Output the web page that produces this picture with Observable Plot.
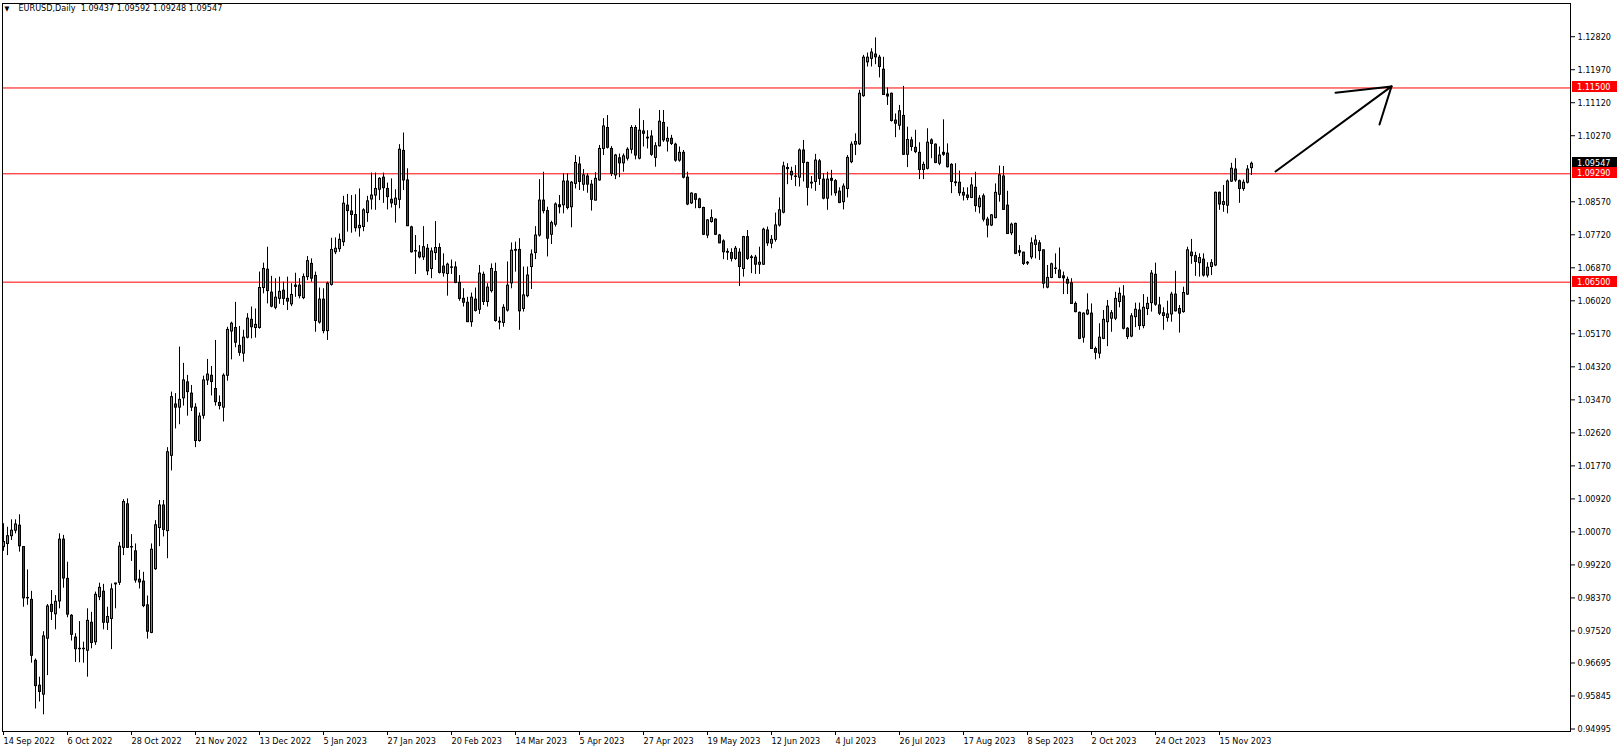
<!DOCTYPE html>
<html><head><meta charset="utf-8">
<script src="https://cdn.jsdelivr.net/npm/d3@7"></script>
<script src="https://cdn.jsdelivr.net/npm/@observablehq/plot@0.6"></script>
<style>html,body{margin:0;padding:0;background:#fff;}#chart{width:1618px;height:752px;overflow:hidden;}</style>
</head><body><div id="chart"></div>
<script>
const opens = [
0.9968,0.9976,0.9996,1.0010,1.0023,0.9968,0.9836,0.9832,0.9675,0.9611,
0.9588,0.9732,0.9819,0.9795,0.9828,0.9987,0.9886,0.9791,0.9735,0.9705,
0.9706,0.9701,0.9773,0.9723,0.9839,0.9853,0.9773,0.9783,0.9872,0.9876,
0.9966,1.0078,0.9968,0.9957,0.9884,0.9879,0.9818,0.9747,0.9911,1.0017,
1.0075,1.0009,1.0203,1.0335,1.0327,1.0351,1.0392,1.0363,1.0327,1.0241,
1.0306,1.0397,1.0409,1.0375,1.0339,1.0327,1.0409,1.0523,1.0532,1.0486,
1.0466,1.0507,1.0553,1.0532,1.0532,1.0635,1.0682,1.0623,1.0584,1.0607,
1.0628,1.0607,1.0593,1.0641,1.0641,1.0609,1.0663,1.0697,1.0666,1.0546,
1.0605,1.0524,1.0643,1.0727,1.0735,1.0753,1.0847,1.0832,1.0823,1.0789,
1.0792,1.0828,1.0863,1.0873,1.0888,1.0919,1.0890,1.0862,1.0849,1.0862,
1.0988,1.0912,1.0791,1.0730,1.0726,1.0714,1.0736,1.0684,1.0725,1.0738,
1.0690,1.0671,1.0688,1.0688,1.0648,1.0607,1.0597,1.0547,1.0605,1.0579,
1.0669,1.0599,1.0627,1.0676,1.0548,1.0545,1.0577,1.0647,1.0733,1.0733,
1.0581,1.0614,1.0689,1.0725,1.0770,1.0860,1.0833,1.0772,1.0798,1.0843,
1.0848,1.0909,1.0843,1.0903,1.0953,1.0901,1.0922,1.0901,1.0860,1.0912,
1.0993,1.1047,1.0993,1.0925,1.0969,1.0956,1.0968,1.0991,1.1047,1.0968,
1.1038,1.1022,1.1025,1.0970,1.1000,1.1060,1.1012,1.1019,1.1004,1.0963,
1.0983,1.0919,1.0853,1.0876,1.0863,1.0841,1.0770,1.0805,1.0811,1.0770,
1.0755,1.0728,1.0725,1.0710,1.0726,1.0684,1.0766,1.0714,1.0713,1.0695,
1.0695,1.0783,1.0749,1.0759,1.0796,1.0829,1.0941,1.0934,1.0922,1.0919,
1.0989,1.0957,1.0906,1.0908,1.0961,1.0914,1.0865,1.0916,1.0910,1.0883,
1.0856,1.0890,1.0959,1.1004,1.1005,1.1129,1.1216,1.1225,1.1236,1.1228,
1.1197,1.1133,1.1135,1.1066,1.1053,1.1078,1.0978,1.1015,1.0996,1.0983,
1.0939,1.0942,1.1015,1.1004,1.0955,1.0978,1.0981,1.0952,1.0907,1.0906,
1.0880,1.0873,1.0867,1.0893,1.0843,1.0871,1.0811,1.0796,1.0815,1.0875,
1.0922,1.0847,1.0776,1.0800,1.0730,1.0726,1.0700,1.0714,1.0746,1.0750,
1.0732,1.0636,1.0661,1.0685,1.0680,1.0665,1.0656,1.0647,1.0594,1.0571,
1.0507,1.0567,1.0569,1.0478,1.0466,1.0504,1.0547,1.0556,1.0556,1.0599,
1.0613,1.0530,1.0510,1.0560,1.0577,1.0537,1.0581,1.0596,1.0669,1.0590,
1.0570,1.0558,1.0567,1.0618,1.0581,1.0573,1.0618,1.0726,1.0717,1.0699,
1.0708,1.0667,1.0689,1.0693,1.0880,1.0849,1.0847,1.0909,1.0940,1.0910,
1.0890,1.0906,1.09437];
const highs = [
1.0028,1.0019,1.0038,1.0038,1.0051,0.9969,0.9909,0.9854,0.9680,0.9633,
0.9750,0.9820,0.9856,0.9843,1.0002,0.9998,0.9929,0.9794,0.9745,0.9776,
0.9723,0.9809,0.9800,0.9852,0.9875,0.9872,0.9813,0.9873,0.9875,0.9980,
1.0090,1.0092,1.0000,0.9976,0.9908,0.9903,0.9842,0.9976,1.0036,1.0088,
1.0088,1.0224,1.0367,1.0363,1.0483,1.0441,1.0410,1.0384,1.0337,1.0313,
1.0408,1.0451,1.0433,1.0500,1.0357,1.0414,1.0534,1.0547,1.0598,1.0536,
1.0526,1.0569,1.0586,1.0581,1.0676,1.0699,1.0740,1.0665,1.0659,1.0663,
1.0650,1.0663,1.0646,1.0673,1.0659,1.0671,1.0716,1.0710,1.0676,1.0635,
1.0633,1.0650,1.0763,1.0764,1.0774,1.0871,1.0876,1.0873,1.0875,1.0890,
1.0839,1.0871,1.0931,1.0931,1.0919,1.0931,1.0905,1.0916,1.0888,1.1004,
1.1034,1.0942,1.0794,1.0770,1.0744,1.0793,1.0747,1.0738,1.0806,1.0749,
1.0723,1.0699,1.0707,1.0702,1.0667,1.0633,1.0611,1.0622,1.0635,1.0693,
1.0676,1.0646,1.0697,1.0699,1.0560,1.0592,1.0702,1.0751,1.0753,1.0762,
1.0689,1.0689,1.0733,1.0793,1.0914,1.0933,1.0843,1.0807,1.0854,1.0873,
1.0929,1.0929,1.0909,1.0976,1.0972,1.0940,1.0929,1.0912,1.0932,1.1002,
1.1071,1.1079,1.0999,1.0979,1.0980,1.0980,1.0996,1.1053,1.1053,1.1096,
1.1066,1.1040,1.1040,1.1009,1.1092,1.1092,1.1049,1.1028,1.1008,1.0998,
1.0989,1.0933,1.0880,1.0878,1.0866,1.0843,1.0811,1.0836,1.0813,1.0773,
1.0759,1.0736,1.0736,1.0742,1.0736,1.0768,1.0783,1.0719,1.0719,1.0740,
1.0789,1.0792,1.0770,1.0828,1.0867,1.0959,1.0955,1.0946,1.0950,1.0993,
1.1015,1.0959,1.0922,1.0979,1.0966,1.0929,1.0933,1.0938,1.0914,1.0893,
1.0903,1.0976,1.1011,1.1032,1.1144,1.1234,1.1240,1.1251,1.1279,1.1234,
1.1229,1.1150,1.1137,1.1083,1.1105,1.1154,1.1049,1.1023,1.1041,1.1009,
1.0959,1.1045,1.1019,1.1006,1.0998,1.1068,1.1006,1.0955,1.0955,1.0936,
1.0893,1.0893,1.0919,1.0933,1.0873,1.0877,1.0817,1.0824,1.0903,1.0949,
1.0948,1.0884,1.0802,1.0802,1.0744,1.0727,1.0703,1.0764,1.0770,1.0757,
1.0733,1.0693,1.0699,1.0723,1.0738,1.0676,1.0663,1.0659,1.0599,1.0573,
1.0571,1.0620,1.0594,1.0483,1.0543,1.0577,1.0603,1.0577,1.0624,1.0635,
1.0641,1.0533,1.0569,1.0596,1.0596,1.0618,1.0611,1.0680,1.0699,1.0611,
1.0584,1.0601,1.0624,1.0678,1.0590,1.0637,1.0740,1.0760,1.0727,1.0723,
1.0723,1.0700,1.0708,1.0882,1.0882,1.0899,1.0913,1.0956,1.0968,1.0913,
1.0913,1.0950,1.09592];
const lows = [
0.9957,0.9946,0.9985,1.0002,0.9955,0.9813,0.9818,0.9669,0.9551,0.9569,
0.9536,0.9637,0.9779,0.9755,0.9809,0.9862,0.9786,0.9726,0.9671,0.9670,
0.9669,0.9633,0.9706,0.9715,0.9830,0.9755,0.9753,0.9704,0.9809,0.9869,
0.9946,0.9965,0.9931,0.9875,0.9860,0.9812,0.9731,0.9745,0.9908,0.9969,
0.9994,0.9938,1.0164,1.0272,1.0283,1.0331,1.0305,1.0317,1.0224,1.0238,
1.0297,1.0384,1.0357,1.0331,1.0321,1.0290,1.0395,1.0450,1.0481,1.0459,
1.0444,1.0504,1.0504,1.0506,1.0529,1.0620,1.0594,1.0584,1.0579,1.0593,
1.0590,1.0577,1.0587,1.0611,1.0607,1.0605,1.0654,1.0650,1.0521,1.0542,
1.0517,1.0500,1.0640,1.0721,1.0727,1.0742,1.0779,1.0776,1.0779,1.0766,
1.0780,1.0804,1.0836,1.0835,1.0860,1.0853,1.0836,1.0841,1.0802,1.0839,
1.0886,1.0794,1.0725,1.0670,1.0710,1.0706,1.0667,1.0659,1.0706,1.0671,
1.0663,1.0614,1.0670,1.0646,1.0601,1.0586,1.0547,1.0534,1.0573,1.0567,
1.0590,1.0586,1.0622,1.0547,1.0527,1.0534,1.0573,1.0633,1.0676,1.0526,
1.0573,1.0610,1.0631,1.0708,1.0766,1.0826,1.0715,1.0747,1.0792,1.0826,
1.0826,1.0836,1.0790,1.0890,1.0886,1.0884,1.0879,1.0833,1.0859,1.0910,
1.0976,1.0993,1.0922,1.0914,1.0919,1.0933,1.0962,1.0980,1.0965,1.0965,
1.0998,1.0993,1.0974,1.0946,1.0998,1.1010,1.0985,1.1002,1.0959,1.0959,
1.0916,1.0847,1.0850,1.0839,1.0839,1.0770,1.0762,1.0802,1.0770,1.0749,
1.0708,1.0706,1.0702,1.0706,1.0639,1.0663,1.0706,1.0672,1.0670,1.0670,
1.0693,1.0742,1.0736,1.0753,1.0792,1.0826,1.0901,1.0912,1.0896,1.0895,
1.0908,1.0846,1.0890,1.0884,1.0899,1.0862,1.0835,1.0872,1.0871,1.0852,
1.0836,1.0867,1.0955,1.0976,1.1002,1.1126,1.1204,1.1204,1.1210,1.1176,
1.1131,1.1105,1.1062,1.1022,1.1041,1.0976,1.0945,1.0987,1.0981,1.0914,
1.0914,1.0939,1.0968,1.0955,1.0950,1.0974,1.0944,1.0878,1.0896,1.0871,
1.0859,1.0860,1.0865,1.0830,1.0826,1.0805,1.0764,1.0793,1.0813,1.0856,
1.0835,1.0773,1.0770,1.0721,1.0716,1.0693,1.0693,1.0708,1.0710,1.0706,
1.0633,1.0633,1.0659,1.0670,1.0659,1.0618,1.0618,1.0593,1.0571,1.0502,
1.0493,1.0564,1.0477,1.0450,1.0453,1.0502,1.0484,1.0521,1.0551,1.0584,
1.0527,1.0502,1.0507,1.0533,1.0526,1.0530,1.0564,1.0573,1.0588,1.0564,
1.0526,1.0547,1.0547,1.0573,1.0519,1.0570,1.0616,1.0696,1.0665,1.0663,
1.0663,1.0661,1.0667,1.0690,1.0835,1.0830,1.0826,1.0907,1.0907,1.0853,
1.0884,1.0903,1.09248];
const closes = [
0.9981,0.9996,1.0010,1.0026,0.9970,0.9836,0.9837,0.9688,0.9610,0.9595,
0.9738,0.9815,0.9801,0.9827,0.9987,0.9887,0.9794,0.9742,0.9705,0.9706,
0.9705,0.9778,0.9721,0.9845,0.9863,0.9773,0.9788,0.9859,0.9874,0.9969,
1.0084,0.9966,0.9967,0.9882,0.9877,0.9816,0.9750,0.9961,1.0024,1.0075,
1.0012,1.0212,1.0354,1.0327,1.0347,1.0397,1.0367,1.0327,1.0241,1.0304,
1.0397,1.0412,1.0393,1.0341,1.0331,1.0409,1.0527,1.0543,1.0494,1.0468,
1.0507,1.0556,1.0534,1.0540,1.0635,1.0684,1.0627,1.0587,1.0610,1.0625,
1.0607,1.0600,1.0617,1.0638,1.0614,1.0663,1.0704,1.0659,1.0550,1.0605,
1.0524,1.0646,1.0733,1.0736,1.0759,1.0852,1.0833,1.0823,1.0789,1.0795,
1.0835,1.0858,1.0873,1.0890,1.0916,1.0892,1.0869,1.0853,1.0865,1.0991,
1.0912,1.0794,1.0727,1.0729,1.0714,1.0740,1.0678,1.0729,1.0738,1.0674,
1.0673,1.0695,1.0687,1.0648,1.0607,1.0597,1.0547,1.0610,1.0576,1.0672,
1.0599,1.0636,1.0684,1.0550,1.0546,1.0584,1.0641,1.0731,1.0731,1.0575,
1.0616,1.0667,1.0721,1.0770,1.0860,1.0833,1.0762,1.0802,1.0850,1.0848,
1.0909,1.0841,1.0906,1.0957,1.0908,1.0925,1.0901,1.0862,1.0916,1.0993,
1.1051,1.0996,1.0929,1.0976,1.0956,1.0974,1.0991,1.1047,1.0976,1.1040,
1.1032,1.1020,1.0978,1.1000,1.1063,1.1015,1.1019,1.1006,1.0963,1.0983,
1.0919,1.0850,1.0878,1.0862,1.0841,1.0772,1.0809,1.0815,1.0772,1.0750,
1.0727,1.0726,1.0710,1.0736,1.0689,1.0766,1.0710,1.0712,1.0695,1.0700,
1.0785,1.0750,1.0759,1.0796,1.0835,1.0948,1.0944,1.0925,1.0921,1.0989,
1.0957,1.0893,1.0904,1.0963,1.0916,1.0865,1.0914,1.0911,1.0879,1.0854,
1.0896,1.0970,1.1004,1.1011,1.1135,1.1228,1.1228,1.1241,1.1229,1.1204,
1.1132,1.1128,1.1065,1.1058,1.1090,1.0978,1.1016,1.0998,1.0985,1.0939,
1.0952,1.1009,1.1006,1.0957,1.0976,1.0983,1.0946,1.0908,1.0905,1.0879,
1.0873,1.0867,1.0899,1.0846,1.0865,1.0811,1.0796,1.0822,1.0880,1.0925,
1.0836,1.0774,1.0798,1.0723,1.0726,1.0697,1.0698,1.0750,1.0757,1.0730,
1.0646,1.0661,1.0696,1.0684,1.0661,1.0660,1.0646,1.0594,1.0573,1.0504,
1.0569,1.0577,1.0478,1.0468,1.0507,1.0553,1.0587,1.0570,1.0607,1.0620,
1.0530,1.0509,1.0562,1.0579,1.0537,1.0584,1.0594,1.0672,1.0592,1.0569,
1.0563,1.0567,1.0618,1.0575,1.0569,1.0622,1.0732,1.0717,1.0702,1.0712,
1.0667,1.0687,1.0699,1.0880,1.0850,1.0856,1.0909,1.0942,1.0912,1.0890,
1.0906,1.0940,1.09547];

const dateLabels = ["14 Sep 2022","6 Oct 2022","28 Oct 2022","21 Nov 2022","13 Dec 2022","5 Jan 2023","27 Jan 2023","20 Feb 2023","14 Mar 2023","5 Apr 2023","27 Apr 2023","19 May 2023","12 Jun 2023","4 Jul 2023","26 Jul 2023","17 Aug 2023","8 Sep 2023","2 Oct 2023","24 Oct 2023","15 Nov 2023"];
const dateBars = [0,16,32,48,64,80,96,112,128,144,160,176,192,208,224,240,256,272,288,304];
const priceTicks = [1.12820,1.11970,1.11120,1.10270,1.08570,1.07720,1.06870,1.06020,1.05170,1.04320,1.03470,1.02620,1.01770,1.00920,1.00070,0.99220,0.98370,0.97520,0.96695,0.95845,0.94995];
const levels = [1.11500, 1.09290, 1.06500];
const lastPrice = 1.09547;
const titleText = "EURUSD,Daily  1.09437 1.09592 1.09248 1.09547";
const arrowShaft = [{bar: 318, price: 1.0935}, {bar: 347, price: 1.1154}];
const arrowHeadA = [{bar: 333, price: 1.1138}, {bar: 347, price: 1.1154}];
const arrowHeadB = [{bar: 344, price: 1.1056}, {bar: 347, price: 1.1154}];

const FONT = "Tahoma, 'DejaVu Sans Condensed', 'DejaVu Sans', sans-serif";
const GREEN = "#3cb43c";
const RED = "#e60000";

const candles = opens.map((o, k) => ({bar: k, o, h: highs[k], l: lows[k], c: closes[k]}));
const bodies = candles.filter(d => Math.abs(d.c - d.o) > 0.0005);

const tag = (value, bg) => (index, scales, values, dims) => {
  const y = Math.round(scales.y(value));
  const x0 = dims.width - dims.marginRight + 2;
  const g = d3.create("svg:g");
  g.append("rect").attr("x", x0).attr("y", y - 6).attr("width", 45).attr("height", 11).attr("fill", bg);
  g.append("text").attr("x", x0 + 5).attr("y", y).attr("dy", "0.32em").attr("text-anchor", "start")
    .attr("fill", "#fff").attr("font-size", 9).attr("font-family", FONT).text(value.toFixed(5));
  return g.node();
};

const chart = Plot.plot({
  width: 1618, height: 752,
  marginLeft: 2, marginRight: 48, marginTop: 3, marginBottom: 21,
  style: {fontFamily: FONT, fontSize: "9px", background: "#fff", color: "#000"},
  x: {type: "linear", domain: [-0.25, 391.75], label: null},
  y: {type: "linear", domain: [0.94931, 1.13675], label: null},
  marks: [
    Plot.ruleY(levels, {stroke: "#ff0000", strokeWidth: 1}),
    Plot.ruleX(candles, {x: "bar", y1: "l", y2: "h", stroke: "#000", strokeWidth: 1}),
    Plot.rect(candles, {x1: d => d.bar - 0.25, x2: d => d.bar + 0.5, y1: "o", y2: "c", fill: "#000", insetTop: -0.5, insetBottom: -0.5}),
    Plot.rect(bodies, {x1: d => d.bar, x2: d => d.bar + 0.25, y1: "o", y2: "c", insetTop: 0.5, insetBottom: 0.5, fill: d => d.c >= d.o ? GREEN : RED}),
    Plot.line(arrowShaft, {x: "bar", y: "price", stroke: "#000", strokeWidth: 2}),
    Plot.line(arrowHeadA, {x: "bar", y: "price", stroke: "#000", strokeWidth: 2}),
    Plot.line(arrowHeadB, {x: "bar", y: "price", stroke: "#000", strokeWidth: 2}),
    Plot.frame({stroke: "#000"}),
    Plot.axisY(priceTicks, {anchor: "right", tickSize: 4, tickPadding: 3, tickFormat: d => d.toFixed(5), fontSize: 9}),
    Plot.axisX(dateBars, {anchor: "bottom", tickSize: 4, tickPadding: 2, textAnchor: "start", tickFormat: d => dateLabels[dateBars.indexOf(d)], fontSize: 9}),
    tag(lastPrice, "#000"),
    ...levels.map(v => tag(v, "#ff0000")),
    Plot.text(["\u25BC"], {frameAnchor: "top-left", dx: 2, dy: 3, textAnchor: "start", lineAnchor: "top", fontSize: 7}),
    Plot.text([titleText], {frameAnchor: "top-left", dx: 16, dy: 1, textAnchor: "start", lineAnchor: "top", fontSize: 9})
  ]
});
document.getElementById("chart").appendChild(chart);
</script>
</body></html>
